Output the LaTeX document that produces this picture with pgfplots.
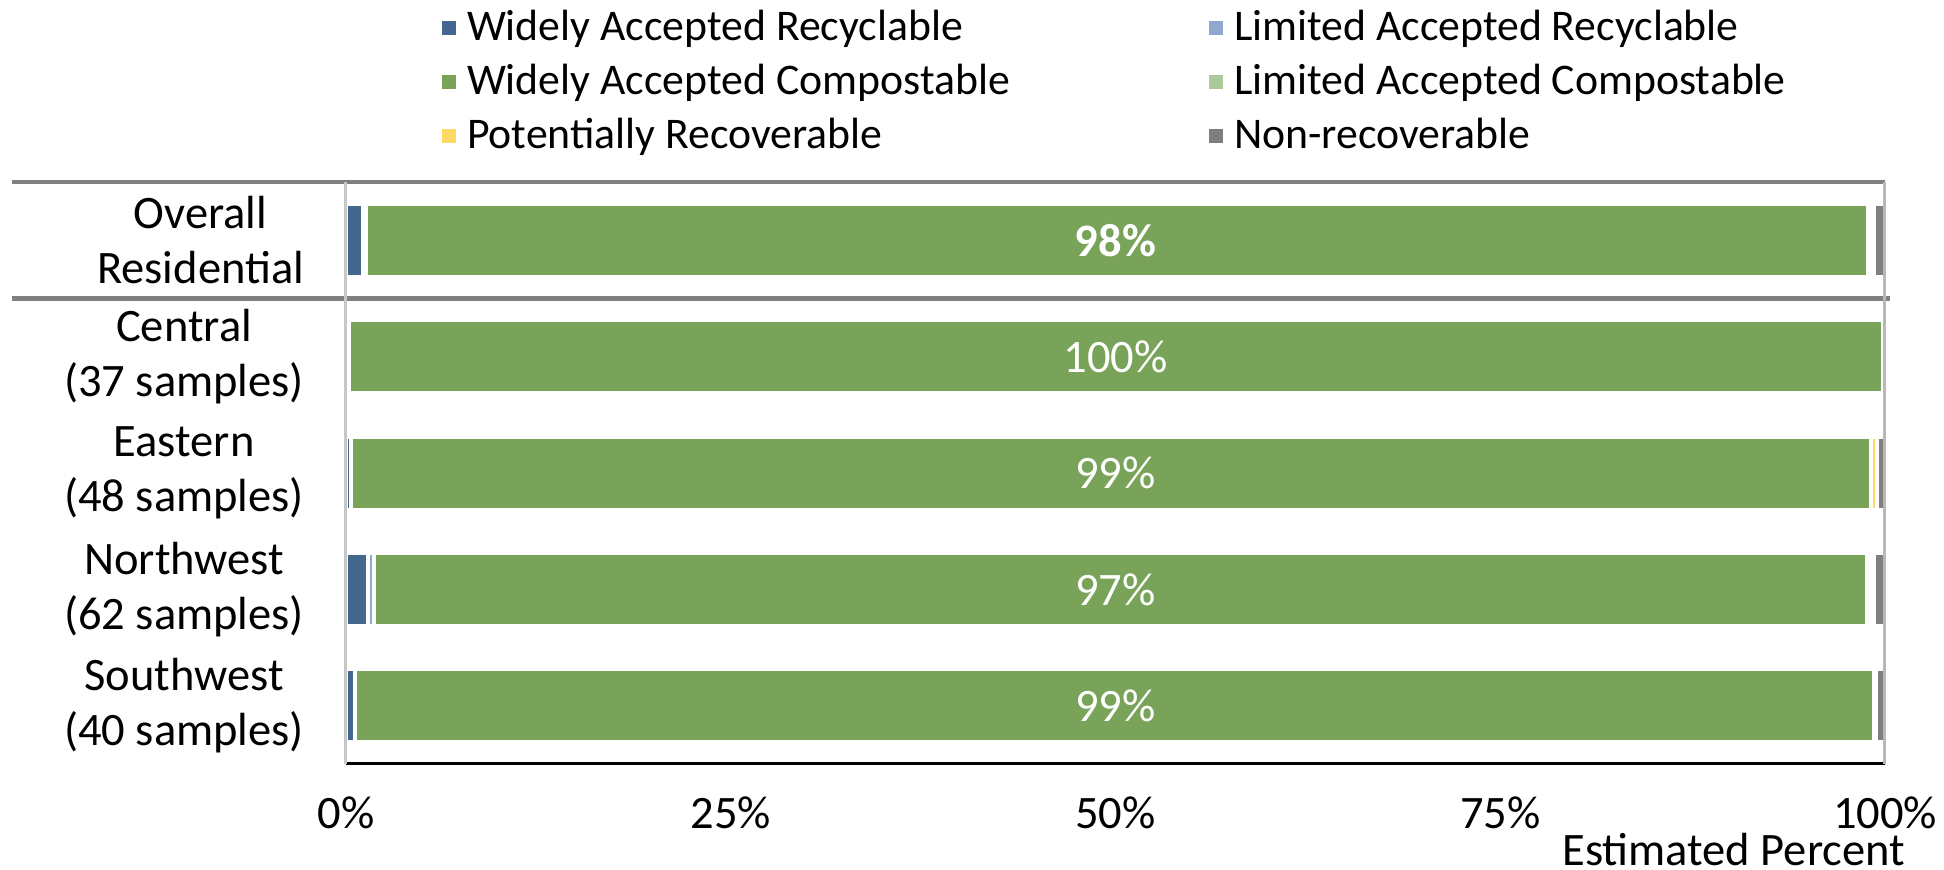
\documentclass[border=0pt]{standalone}
\usepackage{pgfplots}
\pgfplotsset{compat=1.18}
\usepackage{fontspec}
\setmainfont{Carlito}
\definecolor{war}{HTML}{44678F}
\definecolor{lar}{HTML}{8EA9CC}
\definecolor{wac}{HTML}{78A359}
\definecolor{lac}{HTML}{A9C99A}
\definecolor{pr}{HTML}{FFD966}
\definecolor{nr}{HTML}{7F7F7F}
\newcommand{\cf}{\fontsize{9.3}{11}\selectfont}
\newcommand{\lf}{\fontsize{8.75}{10}\selectfont}
\begin{document}
\begin{tikzpicture}
\useasboundingbox (-69.2pt,-21.2pt) rectangle (319.6pt,152.8pt);
\begin{axis}[
  at={(0,0)}, anchor=south west,
  scale only axis, width=307.8pt, height=116.4pt,
  xbar stacked, bar width=14.6pt,
  xmin=0, xmax=100, ymin=-0.5, ymax=4.5,
  xtick={0,25,50,75,100}, xticklabels={0\%,25\%,50\%,75\%,100\%},
  ytick={0,1,2,3,4},
  yticklabels={Southwest\\(40 samples), Northwest\\(62 samples), Eastern\\(48 samples), Central\\(37 samples), Overall\\Residential},
  major tick length=0pt,
  axis line style={draw=none},
  font=\cf,
  ticklabel style={font=\cf},
  /pgf/number format/assume math mode=true,
  xticklabel style={anchor=base, yshift=-13.0pt, inner sep=0pt},
  yticklabel style={align=center, anchor=east, inner sep=0pt, xshift=-8.2pt},
  xlabel={Estimated Percent},
  xlabel style={at={(axis description cs:1,0)}, anchor=base east, xshift=4.2pt, yshift=-20.3pt, inner sep=0pt, font=\cf},
  clip=false,
  legend columns=2,
  legend cell align=left,
  legend image code/.code={\fill[#1,draw=none] (0pt,-1.4pt) rectangle (2.8pt,1.4pt);},
  legend style={at={(axis description cs:0.0624,1)}, anchor=south west, yshift=4.8pt,
    draw=none, fill=none, inner sep=0pt, outer sep=0pt, row sep=1.8pt, column sep=0pt,
    nodes={inner sep=0pt, text height=7pt, text depth=2pt, font=\lf},
    /tikz/every odd column/.append style={column sep=2.2pt}},
]
\draw[line width=0.6pt, color=black!22] (axis cs:0,-0.5) -- (axis cs:0,4.5);
\draw[line width=0.6pt, color=black!28] (axis cs:100,-0.5) -- (axis cs:100,4.5);
\addplot[draw=white, line width=0.8pt, fill=war] coordinates {(0.6,0) (1.4,1) (0.3,2) (0.2,3) (1.1,4)};
\addlegendentry{\makebox[148.4pt][l]{Widely Accepted Recyclable}}
\addplot[draw=white, line width=0.8pt, fill=lar] coordinates {(0,0) (0.4,1) (0,2) (0,3) (0.2,4)};
\addlegendentry{Limited Accepted Recyclable}
\addplot[draw=white, line width=0.8pt, fill=wac] coordinates {(98.7,0) (97.0,1) (98.8,2) (99.7,3) (97.6,4)};
\addlegendentry{\makebox[148.4pt][l]{Widely Accepted Compostable}}
\addplot[draw=white, line width=0.8pt, fill=lac] coordinates {(0,0) (0.3,1) (0,2) (0,3) (0.2,4)};
\addlegendentry{Limited Accepted Compostable}
\addplot[draw=white, line width=0.8pt, fill=pr] coordinates {(0.1,0) (0.2,1) (0.4,2) (0,3) (0.2,4)};
\addlegendentry{\makebox[148.4pt][l]{Potentially Recoverable}}
\addplot[draw=white, line width=0.8pt, fill=nr] coordinates {(0.6,0) (0.7,1) (0.5,2) (0.1,3) (0.7,4)};
\addlegendentry{Non-recoverable}
\draw[line width=0.6pt, color=black] (axis cs:0,-0.5) -- (axis cs:100,-0.5);
\draw[line width=0.9pt, color=black!50] (axis cs:-21.7,4.5) -- (axis cs:100,4.5);
\draw[line width=0.9pt, color=black!50] (axis cs:-21.7,3.5) -- (axis cs:100.3,3.5);
\coordinate (l4) at (axis cs:50,4);
\coordinate (l3) at (axis cs:50,3);
\coordinate (l2) at (axis cs:50,2);
\coordinate (l1) at (axis cs:50,1);
\coordinate (l0) at (axis cs:50,0);
\end{axis}
\node[white, font=\cf\bfseries] at (l4) {98\%};
\node[white, font=\cf] at (l3) {100\%};
\node[white, font=\cf] at (l2) {99\%};
\node[white, font=\cf] at (l1) {97\%};
\node[white, font=\cf] at (l0) {99\%};
\end{tikzpicture}
\end{document}
